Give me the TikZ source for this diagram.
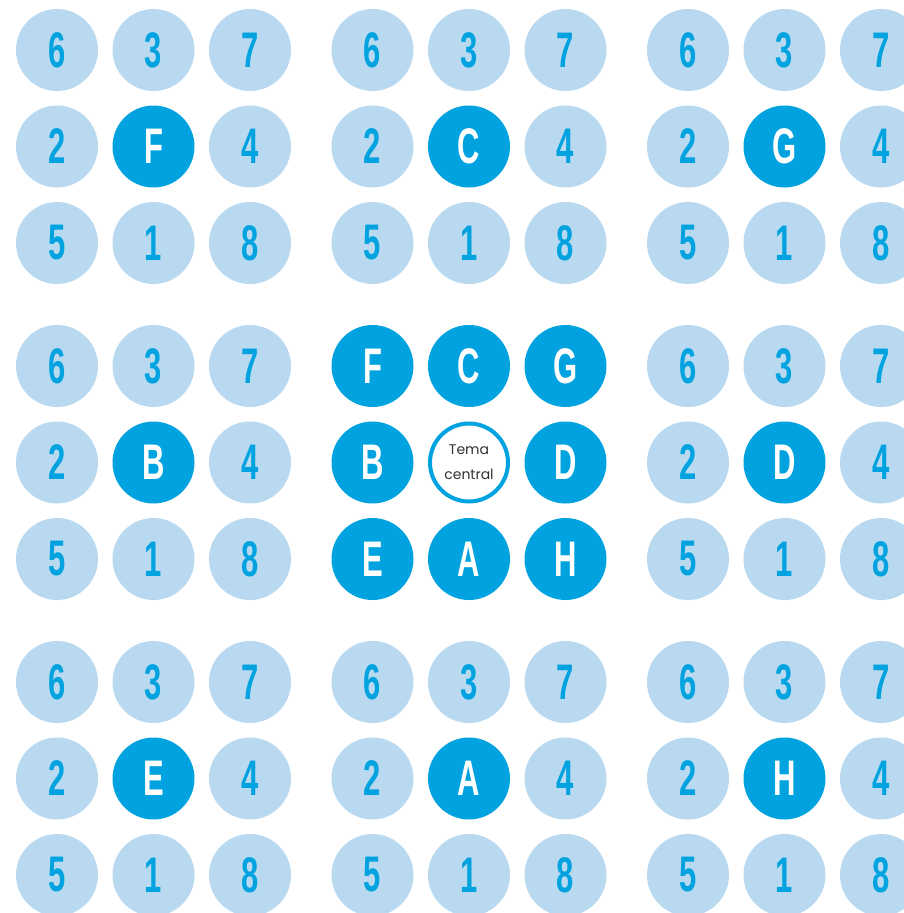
\documentclass[tikz,border=0pt]{standalone}
\usepackage{fontspec}
\newfontfamily\numfont{Liberation Sans}[FakeStretch=0.62]
\newfontfamily\temafont{Poppins}
\definecolor{petal}{HTML}{B9D9F0}
\definecolor{core}{HTML}{00A3DF}
\definecolor{ink}{HTML}{333333}

\begin{document}
\begin{tikzpicture}[x=1pt,y=-1pt,
  cell/.style={circle,minimum size=82pt,inner sep=0pt,font=\numfont\bfseries\fontsize{50}{50}\selectfont},
  subtema/.style={cell,fill=petal,text=core},
  tema/.style={cell,fill=core,text=white},
  centro/.style={circle,draw=core,line width=4pt,fill=white,minimum size=78pt,inner sep=0pt,align=center,font=\temafont\fontsize{14}{25}\selectfont,text=ink},
]
\useasboundingbox (0,0) rectangle (904,913);
\clip (0,0) rectangle (904,913);

% outer blocks: eight numbered circles round one letter
\foreach \bx/\by/\L in {0/0/F,1/0/C,2/0/G,0/1/B,2/1/D,0/2/E,1/2/A,2/2/H}{
  \foreach \i/\j/\n in {0/0/6,1/0/3,2/0/7,0/1/2,2/1/4,0/2/5,1/2/1,2/2/8}
    \node[subtema] (s\bx\by n\n) at ({57+315.5*\bx+96.5*\i},{50+316*\by+96.5*\j}) {\n};
  \node[tema] (s\bx\by L) at ({57+315.5*\bx+96.5},{50+316*\by+96.5}) {\L};
}

% central block
\node[centro] (tc) at ({57+315.5+96.5},{50+316+96.5}) {Tema\\central};
\foreach \i/\j/\L in {0/0/F,1/0/C,2/0/G,0/1/B,2/1/D,0/2/E,1/2/A,2/2/H}
  \node[tema] (c\L) at ({57+315.5+96.5*\i},{50+316+96.5*\j}) {\L};
\end{tikzpicture}
\end{document}
